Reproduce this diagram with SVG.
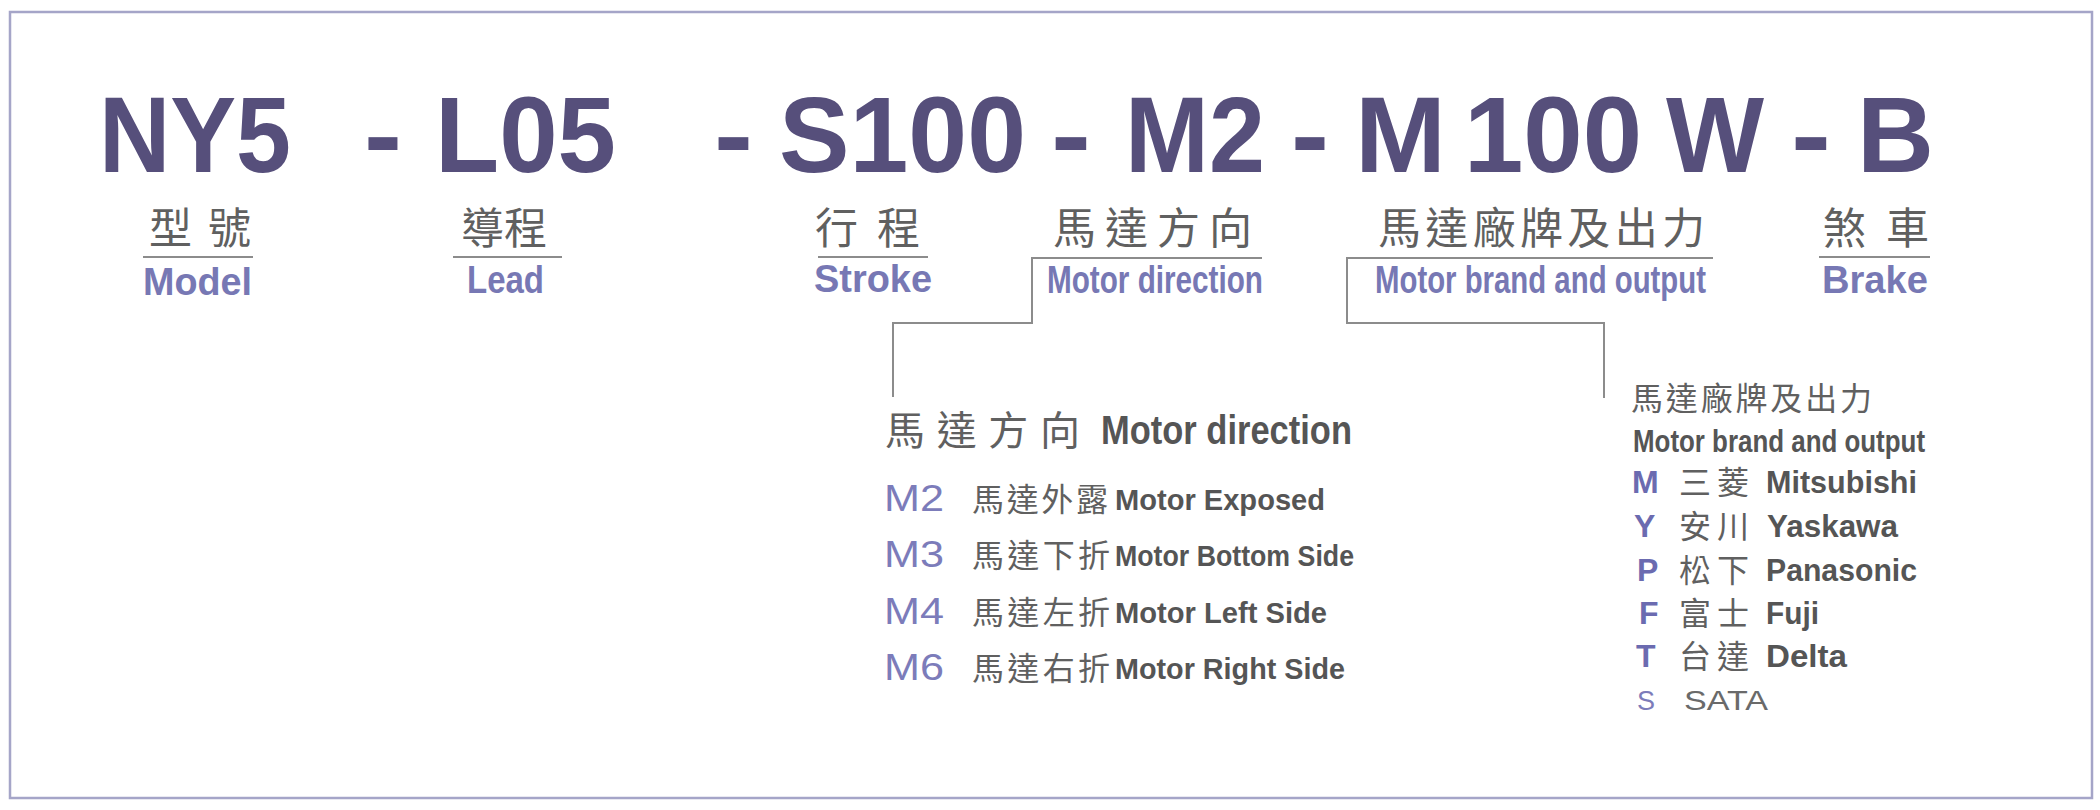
<svg xmlns="http://www.w3.org/2000/svg" width="2100" height="810" viewBox="0 0 2100 810">
<style>
.t{font-family:"Liberation Sans",Arial,sans-serif;font-weight:bold;font-size:107px;fill:#564f7b}
.cjk{font-family:"Noto Sans CJK TC","Noto Sans CJK SC",sans-serif;fill:#606060}
.lab{font-family:"Liberation Sans",Arial,sans-serif;font-weight:bold;font-size:38px;fill:#7778b4}
.dk{font-family:"Liberation Sans",Arial,sans-serif;font-weight:bold;fill:#555555}
.code{font-family:"Liberation Sans",Arial,sans-serif;fill:#7c7cba;font-size:36px}
.bc{font-family:"Liberation Sans",Arial,sans-serif;font-weight:bold;fill:#6b6bb0;font-size:32px}
.rule{stroke:#8c8c8c;stroke-width:2;fill:none}
</style>
<rect x="0" y="0" width="2100" height="810" fill="#ffffff"/>
<rect x="10" y="12" width="2082" height="786" fill="none" stroke="#a5a5c8" stroke-width="2.5"/>

<g id="title">
<text class="t" x="99" y="172" textLength="192" lengthAdjust="spacingAndGlyphs">NY5</text>
<text class="t" x="364" y="172" textLength="38" lengthAdjust="spacingAndGlyphs">-</text>
<text class="t" x="435" y="172" textLength="181" lengthAdjust="spacingAndGlyphs">L05</text>
<text class="t" x="714" y="172" textLength="39" lengthAdjust="spacingAndGlyphs">-</text>
<text class="t" x="779" y="172" textLength="247" lengthAdjust="spacingAndGlyphs">S100</text>
<text class="t" x="1051" y="172" textLength="40" lengthAdjust="spacingAndGlyphs">-</text>
<text class="t" x="1125" y="172" textLength="140" lengthAdjust="spacingAndGlyphs">M2</text>
<text class="t" x="1291" y="172" textLength="38" lengthAdjust="spacingAndGlyphs">-</text>
<text class="t" x="1355" y="172" textLength="91" lengthAdjust="spacingAndGlyphs">M</text>
<text class="t" x="1464" y="172" textLength="178" lengthAdjust="spacingAndGlyphs">100</text>
<text class="t" x="1666" y="172" textLength="98" lengthAdjust="spacingAndGlyphs">W</text>
<text class="t" x="1791" y="172" textLength="40" lengthAdjust="spacingAndGlyphs">-</text>
<text class="t" x="1857" y="172" textLength="77" lengthAdjust="spacingAndGlyphs">B</text>
</g>

<g id="model">
<text class="cjk" x="149" y="244" font-size="43" textLength="102" lengthAdjust="spacing">型號</text>
<line class="rule" x1="143" y1="257" x2="253" y2="257"/>
<text class="lab" x="143" y="295" textLength="109" lengthAdjust="spacingAndGlyphs">Model</text>
</g>
<g id="lead">
<text class="cjk" x="461" y="244" font-size="43" textLength="86" lengthAdjust="spacing">導程</text>
<line class="rule" x1="453" y1="257" x2="562" y2="257"/>
<text class="lab" x="467" y="293" textLength="77" lengthAdjust="spacingAndGlyphs">Lead</text>
</g>
<g id="stroke">
<text class="cjk" x="815" y="244" font-size="43" textLength="105" lengthAdjust="spacing">行程</text>
<line class="rule" x1="818" y1="257" x2="928" y2="257"/>
<text class="lab" x="814" y="292" textLength="118" lengthAdjust="spacingAndGlyphs">Stroke</text>
</g>
<g id="motor-direction">
<text class="cjk" x="1053" y="244" font-size="43" textLength="199" lengthAdjust="spacing">馬達方向</text>
<text class="lab" x="1047" y="293" textLength="216" lengthAdjust="spacingAndGlyphs">Motor direction</text>
</g>
<g id="motor-brand">
<text class="cjk" x="1378" y="244" font-size="43" textLength="327" lengthAdjust="spacing">馬達廠牌及出力</text>
<text class="lab" x="1375" y="293" textLength="331" lengthAdjust="spacingAndGlyphs">Motor brand and output</text>
</g>
<g id="brake">
<text class="cjk" x="1823" y="244" font-size="43" textLength="106" lengthAdjust="spacing">煞車</text>
<line class="rule" x1="1819" y1="257" x2="1930" y2="257"/>
<text class="lab" x="1822" y="293" textLength="106" lengthAdjust="spacingAndGlyphs">Brake</text>
</g>

<g id="connectors">
<polyline class="rule" points="1262,258 1032,258 1032,323 893,323 893,397"/>
<polyline class="rule" points="1713,258 1347,258 1347,323 1604,323 1604,398"/>
</g>

<g id="direction-list">
<text class="cjk" x="885" y="445" font-size="40" textLength="195" lengthAdjust="spacing" fill="#555555">馬達方向</text>
<text class="dk" x="1101" y="444" font-size="41" textLength="251" lengthAdjust="spacingAndGlyphs">Motor direction</text>
<text class="code" x="884" y="511" textLength="60" lengthAdjust="spacingAndGlyphs">M2</text>
<text class="cjk" x="972" y="511" font-size="32" textLength="136" lengthAdjust="spacing">馬達外露</text>
<text class="dk" x="1115" y="510" font-size="30" textLength="210" lengthAdjust="spacingAndGlyphs">Motor Exposed</text>
<text class="code" x="884" y="567" textLength="60" lengthAdjust="spacingAndGlyphs">M3</text>
<text class="cjk" x="972" y="567" font-size="32" textLength="138" lengthAdjust="spacing">馬達下折</text>
<text class="dk" x="1115" y="566" font-size="30" textLength="239" lengthAdjust="spacingAndGlyphs">Motor Bottom Side</text>
<text class="code" x="884" y="624" textLength="60" lengthAdjust="spacingAndGlyphs">M4</text>
<text class="cjk" x="972" y="624" font-size="32" textLength="138" lengthAdjust="spacing">馬達左折</text>
<text class="dk" x="1115" y="623" font-size="30" textLength="212" lengthAdjust="spacingAndGlyphs">Motor Left Side</text>
<text class="code" x="884" y="680" textLength="60" lengthAdjust="spacingAndGlyphs">M6</text>
<text class="cjk" x="972" y="680" font-size="32" textLength="138" lengthAdjust="spacing">馬達右折</text>
<text class="dk" x="1115" y="679" font-size="30" textLength="230" lengthAdjust="spacingAndGlyphs">Motor Right Side</text>
</g>

<g id="brand-list">
<text class="cjk" x="1631" y="410" font-size="32" textLength="241" lengthAdjust="spacing" fill="#555555">馬達廠牌及出力</text>
<text class="dk" x="1633" y="452" font-size="32" textLength="292" lengthAdjust="spacingAndGlyphs">Motor brand and output</text>
<text class="bc" x="1632" y="493">M</text>
<text class="cjk" x="1679" y="494" font-size="32" textLength="70" lengthAdjust="spacing" fill="#555555">三菱</text>
<text class="dk" x="1766" y="493" font-size="32" textLength="151" lengthAdjust="spacingAndGlyphs">Mitsubishi</text>
<text class="bc" x="1634" y="537">Y</text>
<text class="cjk" x="1679" y="538" font-size="32" textLength="70" lengthAdjust="spacing" fill="#555555">安川</text>
<text class="dk" x="1767" y="537" font-size="32" textLength="131" lengthAdjust="spacingAndGlyphs">Yaskawa</text>
<text class="bc" x="1637" y="581">P</text>
<text class="cjk" x="1679" y="582" font-size="32" textLength="70" lengthAdjust="spacing" fill="#555555">松下</text>
<text class="dk" x="1766" y="581" font-size="32" textLength="151" lengthAdjust="spacingAndGlyphs">Panasonic</text>
<text class="bc" x="1639" y="624">F</text>
<text class="cjk" x="1679" y="625" font-size="32" textLength="70" lengthAdjust="spacing" fill="#555555">富士</text>
<text class="dk" x="1766" y="624" font-size="32" textLength="53" lengthAdjust="spacingAndGlyphs">Fuji</text>
<text class="bc" x="1636" y="667">T</text>
<text class="cjk" x="1679" y="668" font-size="32" textLength="70" lengthAdjust="spacing" fill="#555555">台達</text>
<text class="dk" x="1766" y="667" font-size="32" textLength="81" lengthAdjust="spacingAndGlyphs">Delta</text>
<text class="code" x="1637" y="710" font-size="27" style="font-size:27px">S</text>
<text x="1684" y="710" font-family="'Liberation Sans',Arial,sans-serif" font-size="27" fill="#6a6a6a" textLength="84" lengthAdjust="spacingAndGlyphs">SATA</text>
</g>
</svg>
